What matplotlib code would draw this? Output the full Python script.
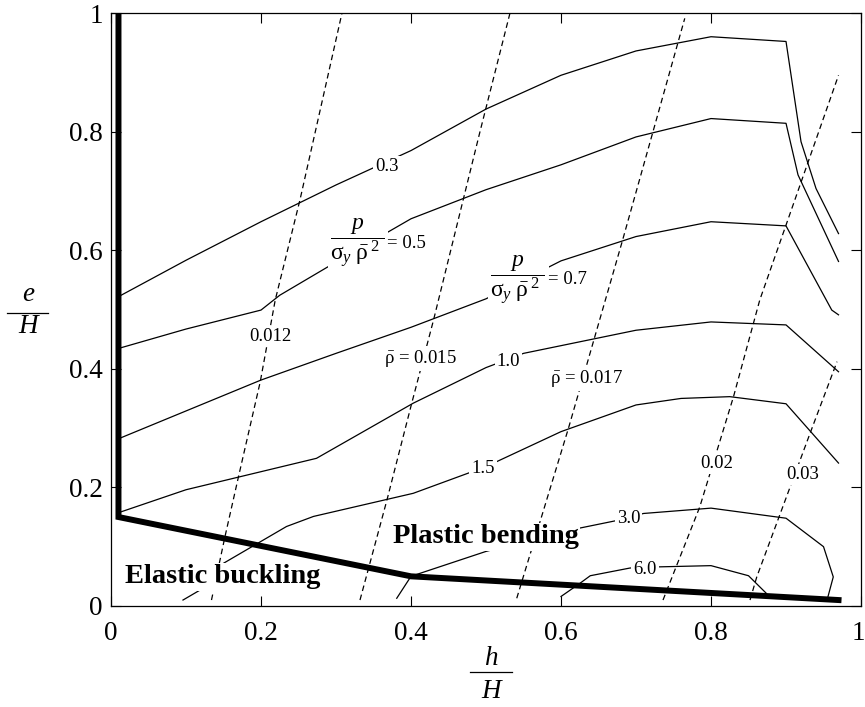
import matplotlib
matplotlib.use("Agg")
import matplotlib.pyplot as plt
import matplotlib.transforms as mtransforms
from matplotlib.lines import Line2D

plt.rcParams['font.family'] = ['Liberation Serif', 'DejaVu Serif']
plt.rcParams['mathtext.fontset'] = 'custom'
plt.rcParams['mathtext.rm'] = 'Liberation Serif'
plt.rcParams['mathtext.it'] = 'Liberation Serif:italic'
plt.rcParams['mathtext.bf'] = 'Liberation Serif:bold'

# load contours p / (sigma_y * rho^2), x = h/H, y = e/H
c03_x = [0.012, 0.1, 0.2, 0.3, 0.4, 0.5, 0.6, 0.7, 0.8, 0.9, 0.92, 0.94, 0.97]
c03_y = [0.523, 0.583, 0.648, 0.71, 0.768, 0.838, 0.895, 0.936, 0.960, 0.952, 0.783, 0.704, 0.628]
c05_x = [0.012, 0.1, 0.2, 0.225, 0.3, 0.4, 0.5, 0.6, 0.7, 0.8, 0.9, 0.916, 0.97]
c05_y = [0.435, 0.467, 0.499, 0.524, 0.58, 0.653, 0.702, 0.744, 0.791, 0.822, 0.814, 0.727, 0.581]
c07_x = [0.012, 0.2, 0.3, 0.4, 0.5, 0.6, 0.7, 0.8, 0.9, 0.961, 0.97]
c07_y = [0.283, 0.381, 0.426, 0.470, 0.518, 0.582, 0.623, 0.648, 0.641, 0.499, 0.491]
c10_x = [0.014, 0.1, 0.274, 0.403, 0.5, 0.55, 0.6, 0.7, 0.8, 0.9, 0.97]
c10_y = [0.159, 0.196, 0.249, 0.342, 0.402, 0.426, 0.439, 0.465, 0.479, 0.474, 0.395]
c15_x = [0.096, 0.119, 0.15, 0.234, 0.27, 0.403, 0.5, 0.6, 0.7, 0.76, 0.825, 0.9, 0.97]
c15_y = [0.010, 0.027, 0.072, 0.134, 0.151, 0.19, 0.235, 0.294, 0.339, 0.35, 0.353, 0.341, 0.241]
c30_x = [0.381, 0.4, 0.5, 0.612, 0.674, 0.71, 0.8, 0.9, 0.95, 0.963, 0.956]
c30_y = [0.013, 0.05, 0.092, 0.128, 0.144, 0.156, 0.165, 0.148, 0.1, 0.049, 0.016]
c60_x = [0.6, 0.625, 0.639, 0.692, 0.732, 0.8, 0.85, 0.874]
c60_y = [0.016, 0.038, 0.051, 0.064, 0.066, 0.068, 0.051, 0.021]

# relative density contours (rho bar)
r012_x = [0.134, 0.152, 0.17, 0.199, 0.219, 0.252, 0.308]
r012_y = [0.01, 0.117, 0.218, 0.378, 0.516, 0.685, 1.0]
r015_x = [0.332, 0.368, 0.401, 0.43, 0.492, 0.532]
r015_y = [0.01, 0.179, 0.342, 0.482, 0.8, 1.0]
r017_x = [0.541, 0.61, 0.681, 0.765]
r017_y = [0.013, 0.3, 0.612, 0.991]
r02_x = [0.736, 0.785, 0.83, 0.865, 0.97]
r02_y = [0.01, 0.167, 0.353, 0.516, 0.895]
r03_x = [0.852, 0.861, 0.932, 0.968]
r03_y = [0.01, 0.049, 0.291, 0.412]

# failure mode boundary
bnd_x = [0.01, 0.01, 0.4, 0.97]
bnd_y = [1.0, 0.15, 0.05, 0.01]

tick_vals = [0, 0.2, 0.4, 0.6, 0.8, 1]
tick_labels = ['0', '0.2', '0.4', '0.6', '0.8', '1']

fig = plt.figure(figsize=(8.65, 7.07), dpi=100)
ax = fig.add_axes([0.1283, 0.1429, 0.8671, 0.8387])

solid = [(c03_x, c03_y), (c05_x, c05_y), (c07_x, c07_y), (c10_x, c10_y),
         (c15_x, c15_y), (c30_x, c30_y), (c60_x, c60_y)]
for xs, ys in solid:
    ax.plot(xs, ys, color='k', lw=0.9, zorder=2)

dashed = [(r012_x, r012_y), (r015_x, r015_y), (r017_x, r017_y),
          (r02_x, r02_y), (r03_x, r03_y)]
for xs, ys in dashed:
    ax.plot(xs, ys, color='k', lw=0.9, dashes=(4.5, 3.0), zorder=2)

ax.plot(bnd_x, bnd_y, color='k', lw=4.3, solid_joinstyle='miter', zorder=3)

# contour labels with white background to break the lines
wbox = dict(facecolor='white', edgecolor='none', pad=1.5)
lab = dict(fontsize=13.5, ha='center', va='center', zorder=5, bbox=wbox)
ax.text(0.368, 0.741, '0.3', **lab)
ax.text(0.53, 0.413, '1.0', **lab)
ax.text(0.496, 0.232, '1.5', **lab)
ax.text(0.69, 0.148, '3.0', **lab)
ax.text(0.712, 0.061, '6.0', **lab)
ax.text(0.212, 0.454, '0.012', **lab)
ax.text(0.808, 0.241, '0.02', **lab)
ax.text(0.922, 0.221, '0.03', **lab)
ax.text(0.413, 0.418, r'$\bar{\mathrm{\rho}}$ = 0.015', **lab)
ax.text(0.634, 0.384, r'$\bar{\mathrm{\rho}}$ = 0.017', **lab)

# load parameter labels: stacked fraction followed by its value
frac = r'$\dfrac{p}{\mathrm{\sigma}_{y}\;\bar{\mathrm{\rho}}^{\;2}\;}$'
for fx, fy, val in [(0.367, 0.612, '= 0.5'), (0.581, 0.55, '= 0.7')]:
    ax.text(fx, fy, frac, fontsize=17, ha='right', va='center', zorder=5, bbox=wbox)
    ax.text(fx + 0.001, fy, val, fontsize=13.5, ha='left', va='center',
            zorder=5, bbox=wbox)

bold = dict(fontsize=20.5, fontweight='bold', ha='center', va='center', zorder=5,
            bbox=dict(facecolor='white', edgecolor='none', pad=1.0))
ax.text(0.149, 0.049, 'Elastic buckling', **bold)
ax.text(0.5, 0.117, 'Plastic bending', **bold)

ax.set_xlim(0, 1)
ax.set_ylim(0, 1)
ax.set_xticks(tick_vals)
ax.set_xticklabels(tick_labels)
ax.set_yticks(tick_vals)
ax.set_yticklabels(tick_labels)
ax.tick_params(direction='in', length=7, width=0.8, top=True, right=True,
               labelsize=19.5)
ax.tick_params(axis='x', pad=11)
ax.tick_params(axis='y', pad=6)
for s in ax.spines.values():
    s.set_linewidth(0.9)

# keep the last x tick label inside the canvas
last = ax.get_xticklabels()[-1]
last.set_transform(last.get_transform() +
                   mtransforms.ScaledTranslation(-3 / 100, 0, fig.dpi_scale_trans))

# axis labels drawn as stacked fractions
fig.text(0.0327, 0.584, 'e', fontsize=19.5, style='italic', ha='center', va='center')
fig.text(0.0327, 0.538, 'H', fontsize=19.5, style='italic', ha='center', va='center')
fig.add_artist(Line2D([0.0084, 0.0558], [0.557, 0.557], color='k', lw=0.9))
fig.text(0.5674, 0.0693, 'h', fontsize=19.5, style='italic', ha='center', va='center')
fig.text(0.5674, 0.0216, 'H', fontsize=19.5, style='italic', ha='center', va='center')
fig.add_artist(Line2D([0.5434, 0.5916], [0.0499, 0.0499], color='k', lw=0.9))

fig.savefig('out.png', dpi=100)
